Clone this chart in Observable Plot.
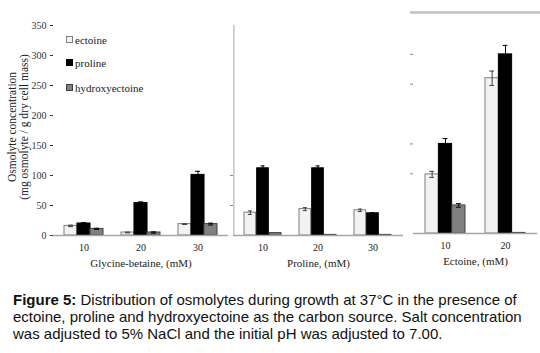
<!DOCTYPE html>
<html><head><meta charset="utf-8">
<script src="https://cdn.jsdelivr.net/npm/d3@7"></script>
<script src="https://cdn.jsdelivr.net/npm/@observablehq/plot@0.6"></script>
<style>
body{margin:0;background:#fff;}
#wrap{position:relative;width:540px;height:282px;font-family:"Liberation Serif",serif;}
#wrap svg{position:absolute;top:0;overflow:visible;}
#wrap svg text{font-family:"Liberation Serif",serif;}
.ylab{position:absolute;left:18px;top:127px;transform:translate(-50%,-50%) rotate(-90deg);white-space:nowrap;text-align:center;font-size:11.5px;line-height:12px;color:#222;}
.leg{position:absolute;left:66px;font-size:11px;line-height:12px;color:#222;white-space:nowrap;}
.leg span{display:inline-block;width:5px;height:5px;margin-right:2px;vertical-align:1px;}
#cap{font-family:"Liberation Sans",Arial,sans-serif;font-size:15px;line-height:17px;margin:9px 0 0 13px;color:#111;white-space:nowrap;}
</style></head><body>
<div id="wrap"></div>
<div id="cap"><b>Figure 5:</b> Distribution of osmolytes during growth at 37°C in the presence of<br>ectoine, proline and hydroxyectoine as the carbon source. Salt concentration<br>was adjusted to 5% NaCl and the initial pH was adjusted to 7.00.</div>
<script>
// ---- data ----
const seriesNames = ["ectoine", "proline", "hydroxyectoine"];

const gbGroups = ["10", "20", "30"];
const gbEctoine = [16, 5, 19];
const gbEctoineErr = [1.2, 0.6, 0.6];
const gbProline = [20, 54, 101];
const gbProlineErr = [1.5, 2, 6];
const gbHydroxy = [11, 5, 19];
const gbHydroxyErr = [1, 1, 1.5];

const prGroups = ["10", "20", "30"];
const prEctoine = [38, 44, 42];
const prEctoineErr = [3, 2.5, 2];
const prProline = [112, 112, 37];
const prProlineErr = [4, 4, 1];
const prHydroxy = [4, 1, 1];
const prHydroxyErr = [0, 0, 0];

const ecGroups = ["10", "20"];
const ecEctoine = [99, 260];
const ecEctoineErr = [5, 12];
const ecProline = [150, 300];
const ecProlineErr = [9, 15];
const ecHydroxy = [47, 1];
const ecHydroxyErr = [3, 0];

const yTicks = [0, 50, 100, 150, 200, 250, 300, 350];
const prTicks = [50, 100];
const ecTicks = [100, 150, 250, 300];
const yLabel1 = "Osmolyte concentration";
const yLabel2 = "(mg osmolyte / g dry cell mass)";
const titles = ["Glycine-betaine, (mM)", "Proline, (mM)", "Ectoine, (mM)"];

// ---- styles ----
const fills = ["#f2f2f2", "#000000", "#808080"];
const strokes = ["#7f7f7f", "#000000", "#404040"];
const errColors = ["#404040", "#000000", "#000000"];

function panel({groups, values, errs, left, width, mL, mR, mT, mB, pi, po, title, axis, leftLine, topLine}) {
  const innerW = width - mL - mR;
  const step = innerW / (groups.length - pi + 2 * po);
  const bw = step * (1 - pi);
  const w = bw / 3;
  const marks = [];
  if (leftLine) marks.push(Plot.ruleX([groups[0]], {y1: 0, y2: 350, dx: -(bw / 2 + po * step), stroke: "#a6a6a6"}));
  if (topLine) marks.push(Plot.ruleY([370], {stroke: "#c0c0c0", strokeWidth: 2.5, insetLeft: -3, insetRight: -3}));
  seriesNames.forEach((s, i) => {
    const rows = groups.map((g, j) => ({group: g, value: values[i][j]}));
    marks.push(Plot.barY(rows, {x: "group", y: "value", fill: fills[i], stroke: strokes[i], strokeWidth: 1, insetLeft: i * w, insetRight: (2 - i) * w}));
  });
  seriesNames.forEach((s, i) => {
    const rows = groups.map((g, j) => ({group: g, value: values[i][j], err: errs[i][j]})).filter(d => d.err > 0);
    const cap = (w - 5) / 2;
    marks.push(Plot.ruleX(rows, {x: "group", y1: d => d.value - d.err, y2: d => d.value + d.err, dx: (i - 1) * w, stroke: errColors[i]}));
    marks.push(Plot.tickY(rows, {x: "group", y: d => d.value + d.err, insetLeft: i * w + cap, insetRight: (2 - i) * w + cap, stroke: errColors[i]}));
    marks.push(Plot.tickY(rows, {x: "group", y: d => d.value - d.err, insetLeft: i * w + cap, insetRight: (2 - i) * w + cap, stroke: errColors[i]}));
  });
  marks.push(Plot.ruleY([0], {stroke: "#a6a6a6", strokeWidth: 1.3}));
  marks.push(axis);
  marks.push(Plot.axisX({tickSize: 0, tickPadding: 8, label: null, color: "#222"}));
  marks.push(Plot.text([title], {frameAnchor: "bottom", dy: 31, fontSize: 11, fill: "#222"}));
  const svg = Plot.plot({
    width, height: 280,
    marginLeft: mL, marginRight: mR, marginTop: mT, marginBottom: mB,
    x: {type: "band", domain: groups, paddingInner: pi, paddingOuter: po},
    y: {domain: [0, 350]},
    style: {fontFamily: "Liberation Serif", fontSize: "10px", background: "transparent", overflow: "visible"},
    marks
  });
  svg.style.left = left + "px";
  return svg;
}

const wrap = document.getElementById("wrap");
wrap.append(panel({
  groups: gbGroups, values: [gbEctoine, gbProline, gbHydroxy], errs: [gbEctoineErr, gbProlineErr, gbHydroxyErr],
  left: 0, width: 232, mL: 53, mR: 4, mT: 25, mB: 45, pi: 0.32, po: 0.19, title: titles[0],
  axis: Plot.axisY({ticks: yTicks, tickSize: 3, tickPadding: 4, label: null, color: "#333"})
}));
wrap.append(panel({
  groups: prGroups, values: [prEctoine, prProline, prHydroxy], errs: [prEctoineErr, prProlineErr, prHydroxyErr],
  left: 228, width: 177, mL: 5, mR: 2, mT: 25, mB: 45, pi: 0.32, po: 0.18, title: titles[1],
  axis: Plot.axisY({ticks: prTicks, tickSize: 3, tickFormat: () => "", label: null, stroke: "#888"}),
  leftLine: true
}));
wrap.append(panel({
  groups: ecGroups, values: [ecEctoine, ecProline, ecHydroxy], errs: [ecEctoineErr, ecProlineErr, ecHydroxyErr],
  left: 404, width: 136, mL: 9, mR: 3, mT: 24, mB: 47, pi: 0.34, po: 0.19, title: titles[2],
  axis: Plot.axisY({ticks: ecTicks, tickSize: 3, tickFormat: () => "", label: null, stroke: "#888"}),
  topLine: true
}));

const yl = document.createElement("div");
yl.className = "ylab";
yl.innerHTML = yLabel1 + "<br>" + yLabel2;
wrap.append(yl);

const legTops = [34, 57, 82];
seriesNames.forEach((s, i) => {
  const d = document.createElement("div");
  d.className = "leg";
  d.style.top = legTops[i] + "px";
  d.innerHTML = `<span style="background:${fills[i]};border:1px solid ${strokes[i]}"></span>${s}`;
  wrap.append(d);
});
</script>
</body></html>
